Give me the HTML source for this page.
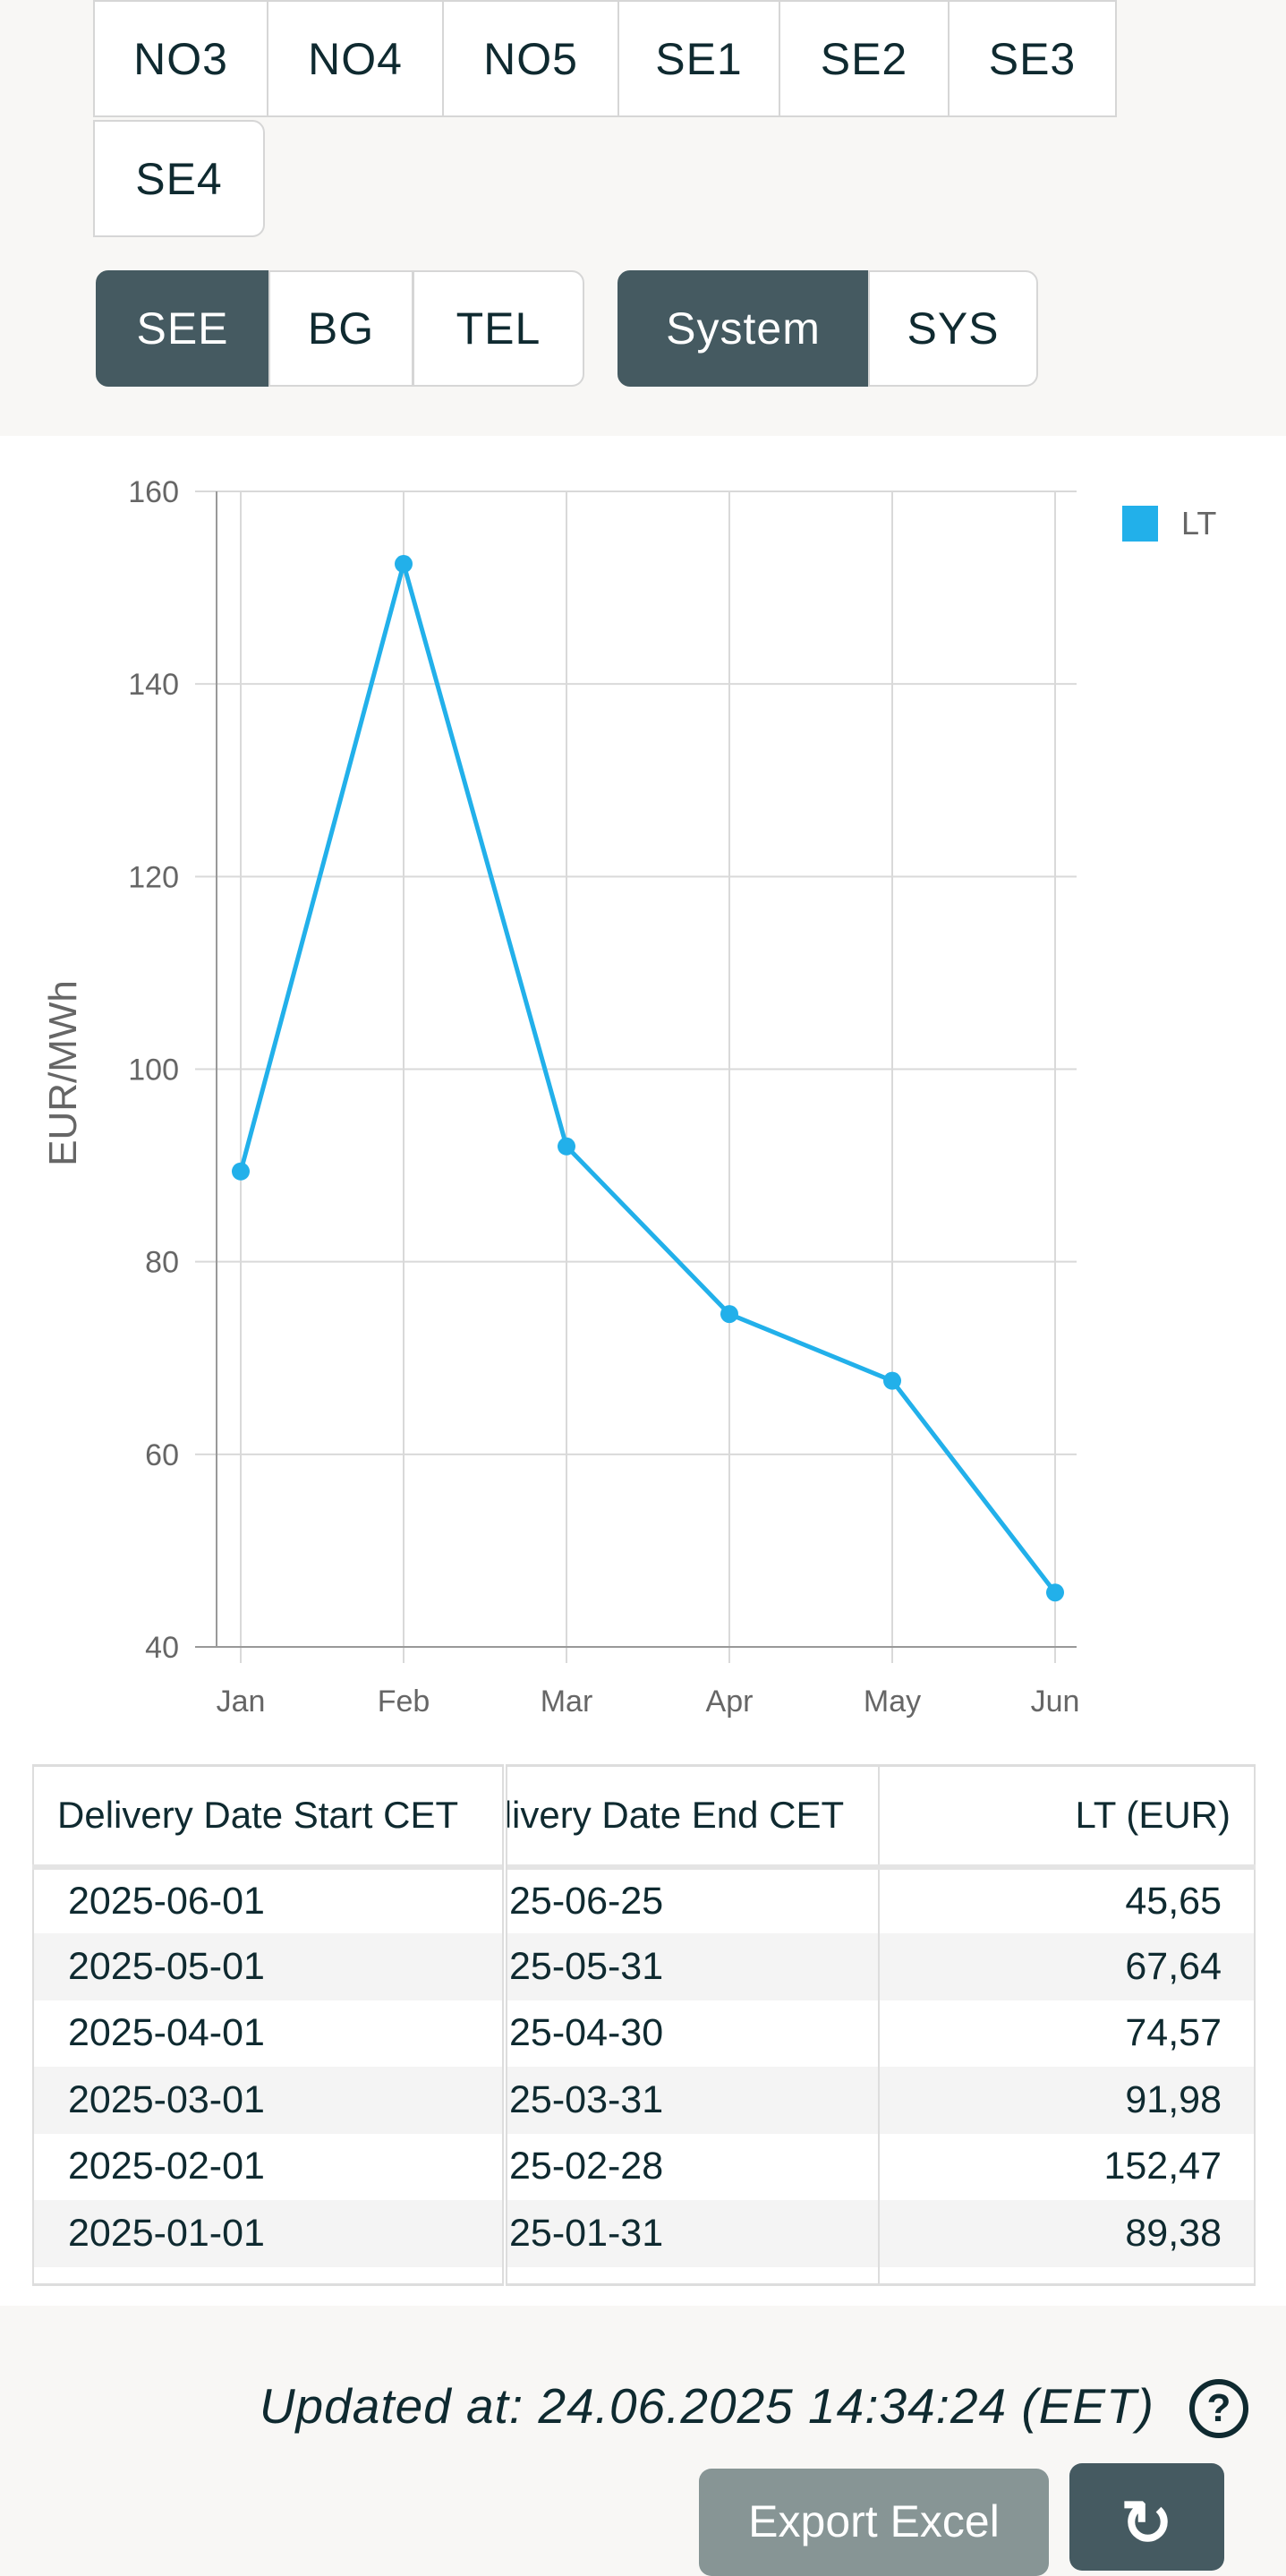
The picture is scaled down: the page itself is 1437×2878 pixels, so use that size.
<!DOCTYPE html>
<html><head><meta charset="utf-8"><style>
*{box-sizing:border-box;margin:0;padding:0}
body{width:1437px;height:2849px;background:#f8f7f5;font-family:"Liberation Sans",sans-serif;position:relative;overflow:hidden;color:#0f2a30}
.btn{position:absolute;background:#fff;border:2px solid #d6d6d6;display:flex;align-items:center;justify-content:center;font-size:50px;letter-spacing:1px;color:#0f2a30}
.dark{background:#455a61;color:#fff;border-color:#455a61}
#white{position:absolute;left:0;top:487px;width:1437px;height:2089px;background:#fff}
table{position:absolute;left:36px;top:1971px;width:1367px;border-collapse:collapse;font-size:43px}
td,th{height:74.5px;overflow:hidden;white-space:nowrap;border-left:2px solid #ddd;border-right:2px solid #ddd}
th{height:113px;font-weight:normal;text-align:left;border-top:3px solid #ddd;border-bottom:6px solid #e4e4e4;font-size:42px;padding-left:26px}
tr.alt td{background:#f4f4f4}
</style></head><body>
<div class="btn" style="left:104px;top:0;width:196px;height:131px">NO3</div>
<div class="btn" style="left:298px;top:0;width:198px;height:131px">NO4</div>
<div class="btn" style="left:494px;top:0;width:198px;height:131px">NO5</div>
<div class="btn" style="left:690px;top:0;width:182px;height:131px">SE1</div>
<div class="btn" style="left:870px;top:0;width:191px;height:131px">SE2</div>
<div class="btn" style="left:1059px;top:0;width:189px;height:131px">SE3</div>
<div class="btn" style="left:104px;top:134px;width:192px;height:131px;border-radius:0 14px 14px 0">SE4</div>
<div class="btn dark" style="left:107px;top:302px;width:194px;height:130px;border-radius:14px 0 0 14px">SEE</div>
<div class="btn" style="left:300px;top:302px;width:162px;height:130px">BG</div>
<div class="btn" style="left:461px;top:302px;width:192px;height:130px;border-radius:0 14px 14px 0">TEL</div>
<div class="btn dark" style="left:690px;top:302px;width:281px;height:130px;border-radius:14px 0 0 14px">System</div>
<div class="btn" style="left:970px;top:302px;width:190px;height:130px;border-radius:0 14px 14px 0">SYS</div>
<div id="white"></div>
<svg id="chart" width="1437" height="1450" style="position:absolute;left:0;top:487px"></svg>
<table>
<tr><th style="width:527px">Delivery Date Start CET</th><th style="width:418px;padding-left:0;border-left:6px double #ddd"><span style="margin-left:-58px">Delivery Date End CET</span></th><th style="text-align:right;padding-right:26px">LT (EUR)</th></tr>
</table>
<div style="position:absolute;right:147px;top:2656px;font-size:55px;font-style:italic;letter-spacing:1px">Updated at: 24.06.2025 14:34:24 (EET)</div>
<div style="position:absolute;left:1329px;top:2658px;width:66px;height:66px;border:6px solid #0f2a30;border-radius:50%;font-size:44px;font-weight:bold;display:flex;align-items:center;justify-content:center">?</div>
<div style="position:absolute;left:781px;top:2758px;width:391px;height:120px;background:#879595;border-radius:14px;color:#fff;font-size:50px;text-align:center;padding-top:30px">Export Excel</div>
<div style="position:absolute;left:1195px;top:2752px;width:173px;height:120px;background:#455a61;border-radius:14px;color:#fff;font-size:70px;font-weight:bold;text-align:center;padding-top:26px">↻</div>
<script>
const months=["Jan","Feb","Mar","Apr","May","Jun"];
const ltValues=[89.38,152.47,91.98,74.57,67.64,45.65];
const yTicks=[40,60,80,100,120,140,160];
const startDates=["2025-06-01","2025-05-01","2025-04-01","2025-03-01","2025-02-01","2025-01-01"];
const endDates=["25-06-25","25-05-31","25-04-30","25-03-31","25-02-28","25-01-31"];
const tableVals=["45,65","67,64","74,57","91,98","152,47","89,38"];
const NS="http://www.w3.org/2000/svg";
const svg=document.getElementById('chart');
const L=242,R=1203,T=62,B=1353;
const x=i=>269+i*(1179-269)/(months.length-1);
const y=v=>B-(v-40)/(160-40)*(B-T);
function mk(t,a,p){const e=document.createElementNS(NS,t);for(const k in a)e.setAttribute(k,a[k]);(p||svg).appendChild(e);return e;}
yTicks.forEach(v=>{
 const g=mk('line',{x1:218,x2:R,y1:y(v),y2:y(v),stroke:'#d9d9d9','stroke-width':2});
 
 
 const t=mk('text',{x:200,y:y(v)+12,'text-anchor':'end','font-size':34,fill:'#666','font-family':'Liberation Sans'});
 t.textContent=v;
 
 
});
months.forEach((m,i)=>{
 const g=mk('line',{x1:x(i),x2:x(i),y1:T,y2:B+18,stroke:'#d9d9d9','stroke-width':2});
 
 
 const t=mk('text',{x:x(i),y:B+72,'text-anchor':'middle','font-size':34,fill:'#666','font-family':'Liberation Sans'});
 t.textContent=m;
 
 
});
const ax=mk('line',{x1:L,x2:L,y1:T,y2:B,stroke:'#999','stroke-width':2});


const bx=mk('line',{x1:218,x2:R,y1:B,y2:B,stroke:'#999','stroke-width':2});


const yl=mk('text',{x:0,y:0,transform:'translate(85,712) rotate(-90)','text-anchor':'middle','font-size':44,fill:'#666','font-family':'Liberation Sans'});
yl.textContent='EUR/MWh';


const pl=mk('polyline',{points:ltValues.map((v,i)=>x(i)+','+y(v)).join(' '),fill:'none',stroke:'#22b0ea','stroke-width':5});


ltValues.forEach((v,i)=>{
 const c=mk('circle',{cx:x(i),cy:y(v),r:10,fill:'#22b0ea'});
 
 
});
const ls=mk('rect',{x:1254,y:78,width:40,height:40,fill:'#22b0ea'});


const lt=mk('text',{x:1320,y:110,'font-size':36,fill:'#666','font-family':'Liberation Sans'});
lt.textContent='LT';


const tb=document.querySelector('table');
startDates.forEach((d,i)=>{
 const tr=document.createElement('tr');
 if(i%2)tr.className='alt';
 
 
 tr.innerHTML='<td style="padding-left:38px">'+d+'</td><td style="border-left:6px double #ddd;padding-left:2px">'+endDates[i]+'</td><td style="text-align:right;padding-right:36px">'+tableVals[i]+'</td>';
 tb.appendChild(tr);
});
const tr=document.createElement('tr');


tr.innerHTML='<td style="height:20px;border-bottom:3px solid #ddd"></td><td style="height:20px;border-left:6px double #ddd;border-bottom:3px solid #ddd"></td><td style="height:20px;border-bottom:3px solid #ddd"></td>';
tb.appendChild(tr);
</script>
</body></html>
